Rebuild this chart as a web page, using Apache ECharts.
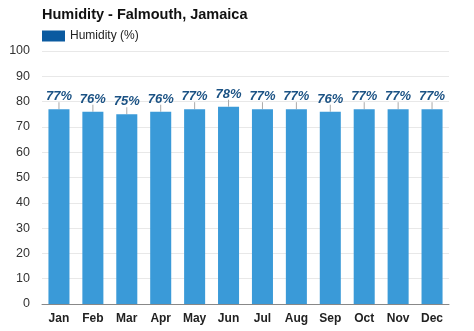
<!DOCTYPE html>
<html>
<head>
<meta charset="utf-8">
<script src="https://cdn.jsdelivr.net/npm/echarts@6/dist/echarts.min.js"></script>
<style>
html,body{margin:0;padding:0;background:#fff;}
#chart{width:474px;height:331px;}
</style>
</head>
<body>
<div id="chart"></div>
<script>
const months = ['Jan','Feb','Mar','Apr','May','Jun','Jul','Aug','Sep','Oct','Nov','Dec'];
const humidity = [77,76,75,76,77,78,77,77,76,77,77,77];
const yTicks = [0,10,20,30,40,50,60,70,80,90,100];

const chart = echarts.init(document.getElementById('chart'));
chart.setOption({
  animation: false,
  title: {
    text: 'Humidity - Falmouth, Jamaica',
    left: 37, top: 2,
    textStyle: {fontFamily: 'Liberation Sans, Arial', fontSize: 14.5, fontWeight: 'bold', color: '#111'}
  },
  legend: {
    left: 37, top: 25,
    icon: 'rect',
    itemWidth: 23, itemHeight: 11, itemGap: 5,
    textStyle: {fontFamily: 'Liberation Sans, Arial', fontSize: 12, color: '#222'},
    data: [{name: 'Humidity (%)', itemStyle: {color: '#0a5aa0'}}]
  },
  grid: {left: 42, right: 25, top: 51, bottom: 27},
  xAxis: {
    type: 'category',
    data: months,
    axisTick: {show: false},
    axisLine: {lineStyle: {color: '#888'}},
    axisLabel: {fontFamily: 'Liberation Sans, Arial', fontSize: 12, fontWeight: 'bold', color: '#222', margin: 9}
  },
  yAxis: {
    type: 'value',
    min: yTicks[0], max: yTicks[yTicks.length - 1], interval: 10,
    axisLine: {show: false},
    axisTick: {show: false},
    splitLine: {lineStyle: {color: '#e8e8e8'}},
    axisLabel: {fontFamily: 'Liberation Sans, Arial', fontSize: 12.5, color: '#333', margin: 12}
  },
  series: [
    {
      name: 'Humidity (%)',
      type: 'bar',
      data: humidity,
      barWidth: '62%',
      itemStyle: {color: '#3a9ad8'},
      label: {
        show: true, position: 'top', distance: 6,
        formatter: '{c}%',
        fontFamily: 'Liberation Sans, Arial', fontSize: 13, fontWeight: 'bold', fontStyle: 'italic',
        color: '#1b5284'
      }
    },
    {
      // short connector from each bar top up toward its label
      type: 'custom',
      data: humidity.map((v, i) => [i, v]),
      silent: true,
      z: 1,
      renderItem: function (params, api) {
        const p = api.coord([api.value(0), api.value(1)]);
        return {
          type: 'line',
          shape: {x1: p[0], y1: p[1], x2: p[0], y2: p[1] - 7},
          style: {stroke: '#aaa', lineWidth: 1}
        };
      }
    }
  ]
});
</script>
</body>
</html>
